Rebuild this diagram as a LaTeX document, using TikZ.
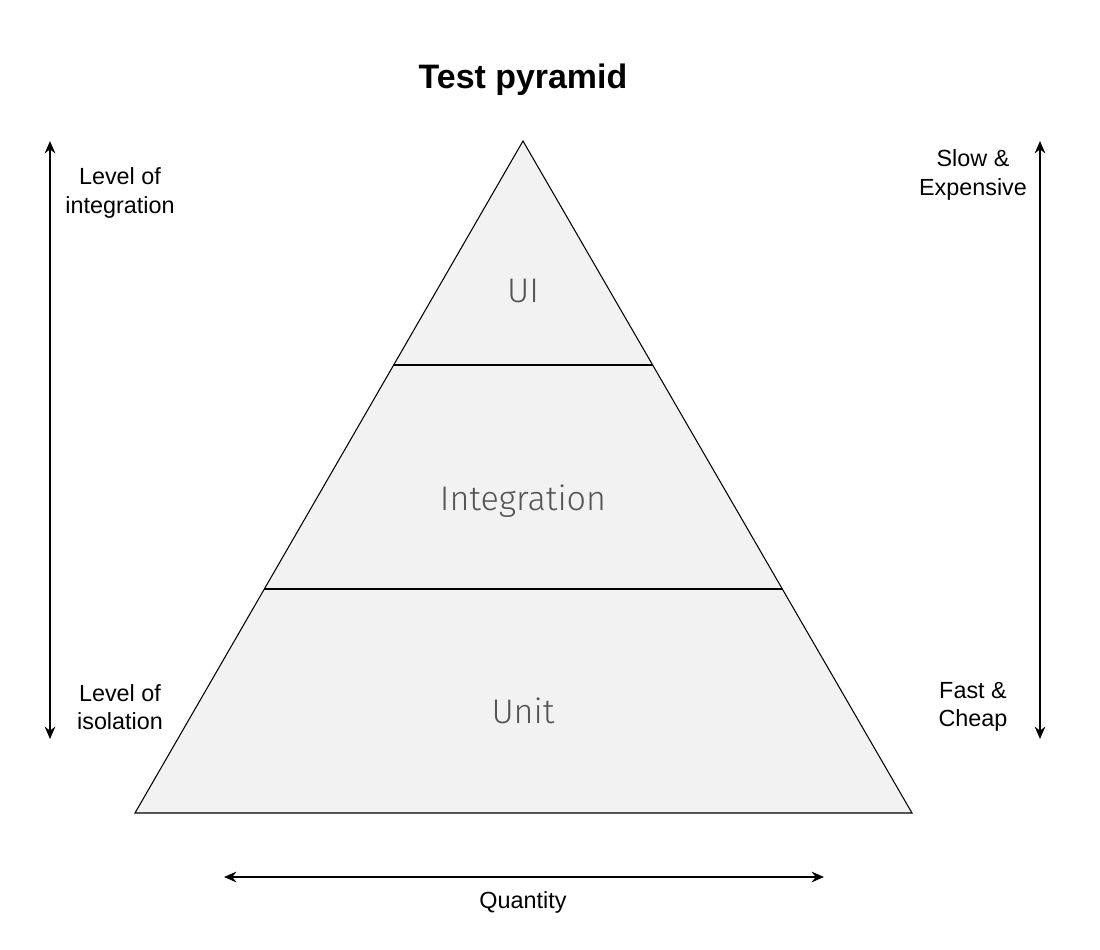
\documentclass[tikz,border=0pt]{standalone}
\usepackage{fontspec}
\setmainfont{Liberation Sans}
\newfontfamily\lightfont{Fira Sans Light}
\usetikzlibrary{arrows.meta,positioning,calc}
\definecolor{layerfill}{RGB}{242,242,242}
\definecolor{layertext}{RGB}{85,85,85}
\tikzset{
  sidelabel/.style={font=\fontsize{13.3}{16}\selectfont,align=center},
  layername/.style={font=\lightfont\fontsize{19.4}{22}\selectfont,text=layertext},
  axis/.style={line width=1.1pt,{Stealth[length=7pt,width=6pt]}-{Stealth[length=7pt,width=6pt]}}
}

\begin{document}
\begin{tikzpicture}[x=0.02cm,y=-0.02cm]
    \useasboundingbox (0,0) rectangle (1100,950);
    \node[font=\bfseries\fontsize{19.3}{22}\selectfont] (title) at (523,80) {Test pyramid};
    % pyramid
    \coordinate (apex) at (523,141);
    \coordinate (bl) at (135,813);
    \coordinate (br) at (912,813);
    \filldraw[fill=layerfill,line width=0.6pt] (apex) -- (bl) -- (br) -- cycle;
    \foreach \k in {1,2}
      \draw[line width=0.6pt] ($(apex)!\k/3!(bl)$) -- ($(apex)!\k/3!(br)$);
    \foreach \y/\t in {291/UI,501/Integration,711/Unit}
      \node[layername] (\t) at (523,\y) {\t};
    % axes
    \coordinate (lt) at (50,141);
    \coordinate (lb) at (50,739);
    \coordinate (rt) at (1040,141);
    \coordinate (rb) at (1040,739);
    \coordinate (ql) at (224,877);
    \coordinate (qr) at (824,877);
    \draw[axis] (lt) -- (lb);
    \draw[axis] (rt) -- (rb);
    \draw[axis] (ql) -- (qr);
    \node[sidelabel] (integ) at (120,193) {Level of\\integration};
    \node[sidelabel] (isol) at (120,707) {Level of\\isolation};
    \node[sidelabel] (slow) at (973,175) {Slow \&\\Expensive};
    \node[sidelabel] (fast) at (973,707) {Fast \&\\Cheap};
    \node[sidelabel] (qty) at (523,902) {Quantity};
\end{tikzpicture}
\end{document}
